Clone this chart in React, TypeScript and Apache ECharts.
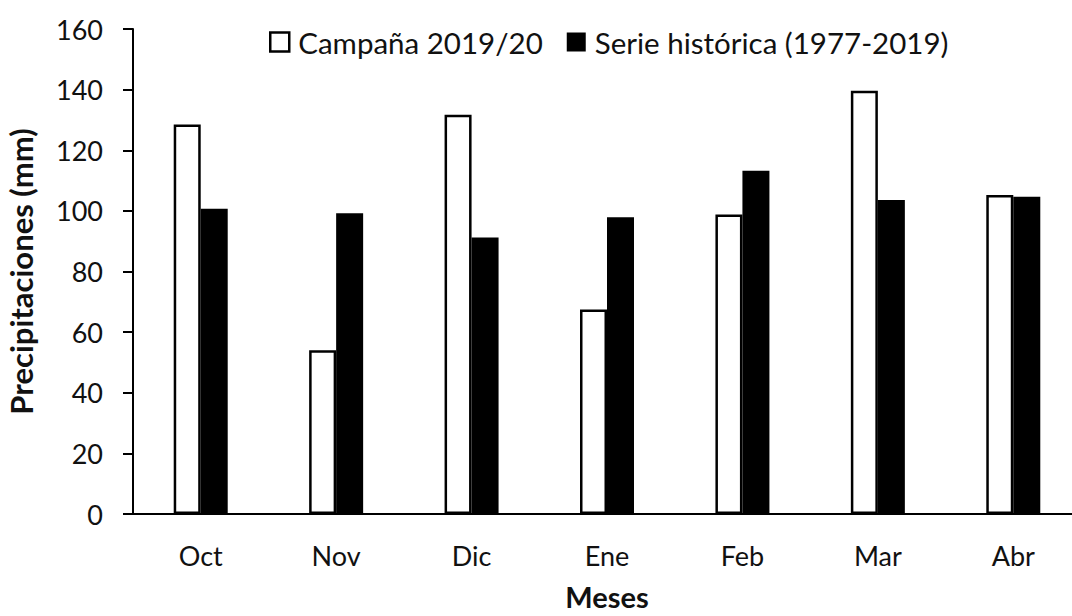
import React, { useEffect, useRef } from "react";
import * as echarts from "echarts";

const categories = ["Oct", "Nov", "Dic", "Ene", "Feb", "Mar", "Abr"];
const campana = [128.5, 54, 131.7, 67.5, 98.8, 139.6, 105.2];
const historica = [100.7, 99.2, 91.2, 97.9, 113.2, 103.6, 104.7];
const seriesNames = ["Campaña 2019/20", "Serie histórica (1977-2019)"];
const yTicks = { min: 0, max: 160, interval: 20 };

const FONT = "Lato";
const TXT = "#111";

export default function App() {
  const ref = useRef<HTMLDivElement>(null);
  useEffect(() => {
    if (!ref.current) return;
    const chart = echarts.init(ref.current, undefined, { renderer: "svg" });
    chart.setOption({
      animation: false,
      backgroundColor: "#fff",
      textStyle: { fontFamily: FONT },
      grid: { left: 133, top: 29, bottom: 102, width: 948, outerBoundsMode: "none" },
      legend: {
        left: 264,
        top: 22,
        itemWidth: 19,
        itemHeight: 19,
        itemGap: 24,
        textStyle: { fontFamily: FONT, fontSize: 29.5, color: TXT, padding: [0, 0, 0, 4] },
        data: [
          { name: seriesNames[0], icon: "rect", itemStyle: { color: "#fff", borderColor: "#000", borderWidth: 2.5 } },
          { name: seriesNames[1], icon: "rect", itemStyle: { color: "#000", borderWidth: 0 } },
        ],
      },
      xAxis: {
        type: "category",
        data: categories,
        name: "Meses",
        nameLocation: "middle",
        nameGap: 68,
        nameTextStyle: { fontFamily: FONT, fontSize: 29, fontWeight: "bold", color: TXT },
        axisLine: { lineStyle: { color: "#000", width: 2 } },
        axisTick: { show: false },
        axisLabel: { fontFamily: FONT, fontSize: 27, color: TXT, margin: 28 },
      },
      yAxis: {
        type: "value",
        min: yTicks.min,
        max: yTicks.max,
        interval: yTicks.interval,
        name: "Precipitaciones (mm)",
        nameLocation: "middle",
        nameGap: 97,
        nameTextStyle: { fontFamily: FONT, fontSize: 31, fontWeight: "bold", color: TXT },
        axisLine: { show: true, lineStyle: { color: "#000", width: 2 } },
        axisTick: { show: true, inside: false, length: 10, lineStyle: { color: "#000", width: 2 } },
        axisLabel: { fontFamily: FONT, fontSize: 27, color: TXT, margin: 30 },
        splitLine: { show: false },
      },
      series: [
        {
          name: seriesNames[0],
          type: "bar",
          data: campana,
          barWidth: 27,
          barGap: "0%",
          itemStyle: { color: "#fff", borderColor: "#000", borderWidth: 2.5 },
        },
        {
          name: seriesNames[1],
          type: "bar",
          data: historica,
          barWidth: 27,
          barGap: "0%",
          itemStyle: { color: "#000" },
        },
      ],
    });
    return () => chart.dispose();
  }, []);
  return (
    <div
      ref={ref}
      style={{ position: "absolute", left: 0, top: 0, width: 1072, height: 616 }}
    />
  );
}
